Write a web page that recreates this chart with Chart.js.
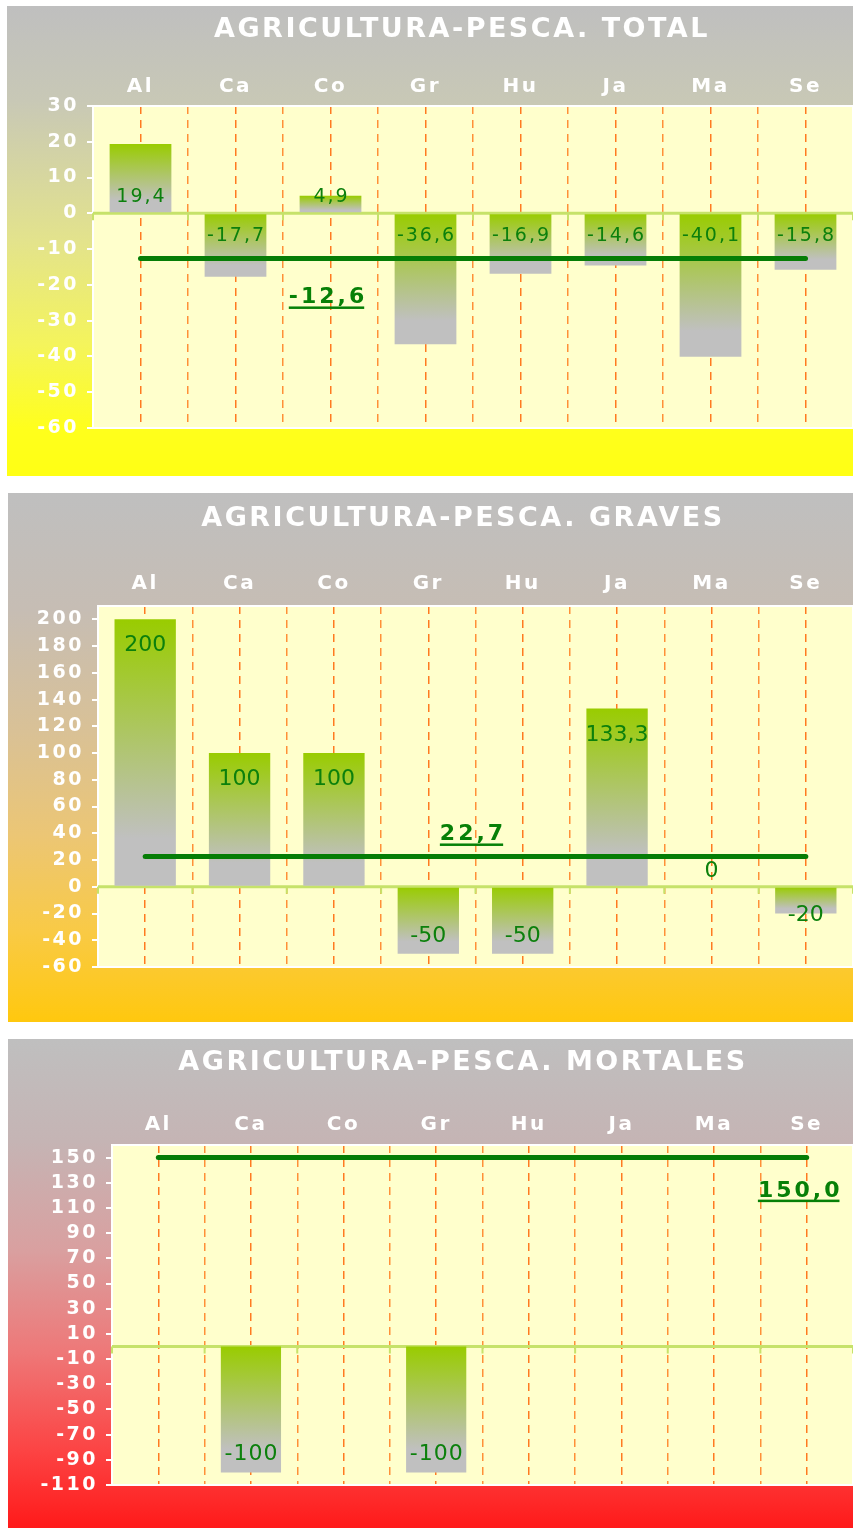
<!DOCTYPE html>
<html>
<head>
<meta charset="utf-8">
<script src="https://cdn.jsdelivr.net/npm/chart.js@4"></script>
<style>
  html, body { margin: 0; padding: 0; background: #fff; width: 853px; height: 1528px; overflow: hidden; }
  .panel { position: absolute; overflow: hidden; }
  canvas { display: block; }
</style>
</head>
<body>
<div class="panel" style="left:7px;top:6px;width:846px;height:470px"><canvas id="cTotal" width="910" height="470"></canvas></div>
<div class="panel" style="left:8px;top:493px;width:845px;height:529px"><canvas id="cGraves" width="910" height="529"></canvas></div>
<div class="panel" style="left:8px;top:1039px;width:845px;height:489px"><canvas id="cMortales" width="910" height="489"></canvas></div>
<script>
// data
var categories = ['Al', 'Ca', 'Co', 'Gr', 'Hu', 'Ja', 'Ma', 'Se'];

var totalValues = [19.4, -17.7, 4.9, -36.6, -16.9, -14.6, -40.1, -15.8];
var totalAverage = -12.6;
var totalTicks = [30, 20, 10, 0, -10, -20, -30, -40, -50, -60];
var totalRange = [-60, 30];

var gravesValues = [200, 100, 100, -50, -50, 133.3, 0, -20];
var gravesAverage = 22.7;
var gravesTicks = [200, 180, 160, 140, 120, 100, 80, 60, 40, 20, 0, -20, -40, -60];
var gravesRange = [-60, 210];

var mortalesValues = [null, -100, null, -100, null, null, null, null];
var mortalesAverage = 150.0;
var mortalesTicks = [150, 130, 110, 90, 70, 50, 30, 10, -10, -30, -50, -70, -90, -110];
var mortalesRange = [-110, 160];

var FONT = 'DejaVu Sans';
var SPACING = '2.5px';
var TITLE_SIZE = 27;

function fmt(v, digits) {
  return (digits == null ? String(v) : v.toFixed(digits)).replace('.', ',');
}

// green at the top of each bar fading to grey at its bottom
function barFill(c) {
  var chart = c.chart, y = chart.scales.y;
  if (c.type !== 'data' || c.raw == null || !y || !chart.chartArea) return '#99cc00';
  var p = y.getPixelForValue(c.raw), b = y.getPixelForValue(0);
  var top = Math.min(p, b), bot = Math.max(p, b);
  if (bot - top < 1) return '#99cc00';
  var g = chart.ctx.createLinearGradient(0, top, 0, bot);
  g.addColorStop(0, '#99cc00');
  g.addColorStop(0.82, '#c0c0c0');
  g.addColorStop(1, '#c0c0c0');
  return g;
}

function catX(xs, pos) {
  var i = Math.floor(pos);
  var step = xs.getPixelForValue(1) - xs.getPixelForValue(0);
  return xs.getPixelForValue(i) + (pos - i) * step;
}

var panelPlugin = {
  id: 'panel',
  beforeUpdate: function (chart) { chart.ctx.letterSpacing = SPACING; },
  beforeDraw: function (chart, args, o) {
    var ctx = chart.ctx, a = chart.chartArea;
    ctx.letterSpacing = SPACING;
    ctx.save();
    var g = ctx.createLinearGradient(0, 0, 0, chart.height);
    o.stops.forEach(function (s) { g.addColorStop(s[0], s[1]); });
    ctx.fillStyle = g;
    ctx.fillRect(0, 0, chart.width, chart.height);
    ctx.fillStyle = '#ffffcc';
    ctx.fillRect(a.left, a.top, a.right - a.left, a.bottom - a.top);
    ctx.restore();
  },
  beforeDatasetsDraw: function (chart) {
    var ctx = chart.ctx, a = chart.chartArea, xs = chart.scales.x;
    var base = chart.scales.y.getPixelForValue(0);
    var step = xs.getPixelForValue(1) - xs.getPixelForValue(0);
    ctx.save();
    ctx.strokeStyle = '#ffffff';
    ctx.lineWidth = 2;
    ctx.strokeRect(a.left, a.top, a.right - a.left, a.bottom - a.top);
    ctx.strokeStyle = '#c6e26a';
    ctx.lineWidth = 3;
    ctx.beginPath();
    ctx.moveTo(a.left, base);
    ctx.lineTo(a.right, base);
    ctx.stroke();
    ctx.lineWidth = 2;
    ctx.beginPath();
    for (var i = 0; i <= categories.length; i++) {
      var x = xs.getPixelForValue(0) + (i - 0.5) * step;
      ctx.moveTo(x, base);
      ctx.lineTo(x, base + 7);
    }
    ctx.stroke();
    ctx.restore();
  },
  afterDatasetsDraw: function (chart, args, o) {
    var ctx = chart.ctx, ys = chart.scales.y, xs = chart.scales.x;
    var base = ys.getPixelForValue(0);
    var meta = chart.getDatasetMeta(1);
    var vals = chart.data.datasets[1].data;
    ctx.save();
    ctx.fillStyle = '#0c800c';
    ctx.textAlign = 'center';
    ctx.textBaseline = 'alphabetic';
    ctx.font = o.labelSize + 'px "' + FONT + '"';
    ctx.letterSpacing = o.labelSpacing + 'px';
    meta.data.forEach(function (bar, i) {
      var v = vals[i];
      if (v == null) return;
      var end = ys.getPixelForValue(v), cy;
      if (o.mode === 'base') cy = v >= 0 ? base - 18 : base + 21;
      else cy = v >= 0 ? Math.min(end + 24, base - 18) : Math.max(end - 20, base + 26);
      ctx.fillText(fmt(v), bar.x + o.labelSpacing / 2, cy + o.labelSize * 0.365);
    });
    // average label, bold and underlined
    var avg = chart.data.datasets[0].data[0];
    var txt = fmt(avg, 1);
    ctx.fillStyle = '#078007';
    ctx.font = 'bold 22px "' + FONT + '"';
    ctx.letterSpacing = '3px';
    var w = ctx.measureText(txt).width - 3;
    var cx = catX(xs, o.avgAt) + o.avgDx;
    var by = ys.getPixelForValue(avg) + o.avgDy + 22 * 0.365;
    ctx.textAlign = 'left';
    ctx.fillText(txt, cx - w / 2, by);
    ctx.fillRect(cx - w / 2, by + 3, w, 2.5);
    ctx.restore();
  }
};

function makePanel(id, cfg) {
  return new Chart(document.getElementById(id), {
    type: 'bar',
    data: {
      labels: categories,
      datasets: [
        {
          type: 'line',
          data: categories.map(function () { return cfg.average; }),
          borderColor: '#067d06',
          borderWidth: 5,
          borderCapStyle: 'round',
          pointRadius: 0,
          order: 0
        },
        {
          data: cfg.values,
          backgroundColor: barFill,
          barPercentage: 0.65,
          categoryPercentage: 1,
          order: 1
        }
      ]
    },
    options: {
      responsive: false,
      animation: false,
      devicePixelRatio: 1,
      layout: { padding: { bottom: cfg.bottom } },
      plugins: {
        legend: { display: false },
        tooltip: { enabled: false },
        title: {
          display: true,
          text: cfg.title,
          color: '#ffffff',
          font: { family: FONT, size: TITLE_SIZE, weight: 'bold' },
          padding: { top: cfg.titleTop, bottom: 0 }
        },
        panel: {
          stops: cfg.stops,
          mode: cfg.mode,
          labelSize: cfg.labelSize,
          labelSpacing: cfg.labelSpacing,
          avgAt: cfg.avgAt,
          avgDx: cfg.avgDx,
          avgDy: cfg.avgDy
        }
      },
      scales: {
        x: {
          position: 'top',
          offset: true,
          grid: { offset: true, color: '#ff9038', lineWidth: 1.5, drawTicks: false },
          border: { display: false, dash: [8, 6] },
          ticks: { color: '#ffffff', font: { family: FONT, size: 20, weight: 'bold' }, padding: cfg.labelPad },
          afterFit: function (s) { s.height = cfg.top - cfg.titleTop - TITLE_SIZE * 1.2; }
        },
        x2: {
          type: 'category',
          labels: categories,
          position: 'top',
          offset: true,
          grid: { offset: false, color: '#ff7a20', lineWidth: 1.5, drawTicks: false },
          border: { display: false, dash: [8, 6] },
          ticks: { display: false },
          afterFit: function (s) { s.height = 0; }
        },
        y: {
          min: cfg.range[0],
          max: cfg.range[1],
          afterBuildTicks: function (s) { s.ticks = cfg.ticks.map(function (v) { return { value: v }; }); },
          grid: { drawOnChartArea: false, color: '#ffffff', lineWidth: 2, tickLength: 6 },
          border: { color: '#ffffff', width: 2 },
          ticks: { color: '#ffffff', font: { family: FONT, size: 19, weight: 'bold' }, padding: 8 },
          afterFit: function (s) { s.width = cfg.left; }
        },
        y2: {
          position: 'right',
          grid: { display: false },
          border: { display: false },
          ticks: { display: false },
          afterFit: function (s) { s.width = cfg.right; }
        }
      }
    },
    plugins: [panelPlugin]
  });
}

makePanel('cTotal', {
  title: 'AGRICULTURA-PESCA. TOTAL',
  values: totalValues, average: totalAverage, ticks: totalTicks, range: totalRange,
  titleTop: 8, top: 100, left: 86, right: 64, bottom: 48, labelPad: 7,
  mode: 'base', labelSize: 19, labelSpacing: 2,
  avgAt: 2, avgDx: -4, avgDy: 37,
  stops: [[0, '#bfbfbf'], [0.2, '#c8c8b6'], [0.5, '#e3e38c'], [0.72, '#f4f45c'], [0.9, '#ffff1c'], [1, '#ffff14']]
});

makePanel('cGraves', {
  title: 'AGRICULTURA-PESCA. GRAVES',
  values: gravesValues, average: gravesAverage, ticks: gravesTicks, range: gravesRange,
  titleTop: 10, top: 113, left: 90, right: 65, bottom: 55, labelPad: 10,
  mode: 'end', labelSize: 22, labelSpacing: 0,
  avgAt: 3.5, avgDx: -4, avgDy: -24,
  stops: [[0, '#bfbfbf'], [0.22, '#c6bdb4'], [0.45, '#d9c196'], [0.65, '#ecc674'], [0.83, '#f9ca45'], [1, '#ffc80e']]
});

makePanel('cMortales', {
  title: 'AGRICULTURA-PESCA. MORTALES',
  values: mortalesValues, average: mortalesAverage, ticks: mortalesTicks, range: mortalesRange,
  titleTop: 8, top: 106, left: 104, right: 65, bottom: 43, labelPad: 8,
  mode: 'end', labelSize: 22, labelSpacing: 1,
  avgAt: 7, avgDx: -8, avgDy: 31,
  stops: [[0, '#bfbfbf'], [0.21, '#c5b4b4'], [0.43, '#d9a0a0'], [0.64, '#ee7878'], [0.84, '#fc4444'], [1, '#ff1a1a']]
});
</script>
</body>
</html>
